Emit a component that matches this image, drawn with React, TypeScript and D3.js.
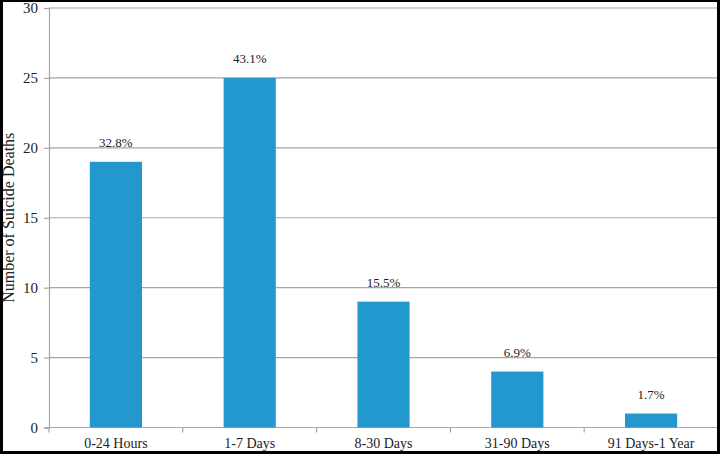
import * as d3 from "d3";
import { useEffect, useRef } from "react";

const categories = ["0-24 Hours", "1-7 Days", "8-30 Days", "31-90 Days", "91 Days-1 Year"];
const deaths = [19, 25, 9, 4, 1];
const percentLabels = ["32.8%", "43.1%", "15.5%", "6.9%", "1.7%"];
const yTicks = [0, 5, 10, 15, 20, 25, 30];

const W = 720;
const H = 454;

export default function App() {
  const ref = useRef<SVGSVGElement | null>(null);

  useEffect(() => {
    if (!ref.current) return;
    const svg = d3.select(ref.current);
    svg.selectAll("*").remove();

    const margin = { top: 8, right: 2, bottom: 26.5, left: 49 };
    const width = W - margin.left - margin.right;
    const height = H - margin.top - margin.bottom;
    const font = "'Liberation Serif', 'Times New Roman', serif";

    svg.append("rect").attr("width", W).attr("height", H).attr("fill", "#fff");

    const g = svg.append("g").attr("transform", `translate(${margin.left},${margin.top})`);

    const x = d3.scaleBand<string>().domain(categories).range([0, width]).padding(0);
    const y = d3.scaleLinear().domain([0, 30]).range([height, 0]);

    // Gridlines
    g.selectAll("line.grid")
      .data(yTicks.filter((t) => t > 0))
      .enter()
      .append("line")
      .attr("class", "grid")
      .attr("x1", 0)
      .attr("x2", width)
      .attr("y1", (d) => y(d))
      .attr("y2", (d) => y(d))
      .attr("stroke", "#a6a6a6")
      .attr("stroke-width", 1.2);

    // Y Axis
    const yAxis = g
      .append("g")
      .call(d3.axisLeft(y).tickValues(yTicks).tickSize(5).tickPadding(6));
    yAxis.select(".domain").attr("stroke", "#a6a6a6").attr("stroke-width", 1.2);
    yAxis.selectAll(".tick line").attr("stroke", "#a6a6a6").attr("stroke-width", 1.2);
    yAxis
      .selectAll("text")
      .style("font-family", font)
      .style("font-size", "15px")
      .attr("fill", "#222");

    // X Axis
    const xAxisG = g.append("g").attr("transform", `translate(0,${height})`);
    xAxisG
      .append("line")
      .attr("x1", -5)
      .attr("x2", width)
      .attr("stroke", "#a6a6a6")
      .attr("stroke-width", 1.2);
    xAxisG
      .selectAll("line.xtick")
      .data(categories)
      .enter()
      .append("line")
      .attr("class", "xtick")
      .attr("x1", (d) => x(d)!)
      .attr("x2", (d) => x(d)!)
      .attr("y1", 0)
      .attr("y2", 5)
      .attr("stroke", "#a6a6a6")
      .attr("stroke-width", 1.2);
    xAxisG
      .selectAll("text")
      .data(categories)
      .enter()
      .append("text")
      .text((d) => d)
      .attr("x", (d) => x(d)! + x.bandwidth() / 2)
      .attr("y", 20)
      .attr("text-anchor", "middle")
      .style("font-family", font)
      .style("font-size", "14px")
      .attr("fill", "#222");

    // Bars
    const barW = x.bandwidth() * 0.39;
    g.selectAll("rect.bar")
      .data(deaths)
      .enter()
      .append("rect")
      .attr("class", "bar")
      .attr("x", (_, i) => x(categories[i])! + (x.bandwidth() - barW) / 2)
      .attr("y", (d) => y(d))
      .attr("width", barW)
      .attr("height", (d) => height - y(d))
      .attr("fill", "#2398cf");

    // Labels on bars
    g.selectAll("text.bar-label")
      .data(deaths)
      .enter()
      .append("text")
      .attr("class", "bar-label")
      .text((_, i) => percentLabels[i])
      .attr("x", (_, i) => x(categories[i])! + x.bandwidth() / 2)
      .attr("y", (d) => y(d) - 15)
      .attr("text-anchor", "middle")
      .style("font-family", font)
      .style("font-size", "13px")
      .attr("fill", "#222");

    // Y title
    svg
      .append("text")
      .text("Number of Suicide Deaths")
      .attr("transform", `translate(14,${margin.top + height / 2}) rotate(-90)`)
      .attr("text-anchor", "middle")
      .style("font-family", font)
      .style("font-size", "16px")
      .attr("fill", "#222");

    // Frame
    svg
      .append("rect")
      .attr("x", 1.5)
      .attr("y", 0.5)
      .attr("width", W - 3)
      .attr("height", H - 2)
      .attr("fill", "none")
      .attr("stroke", "#000")
      .attr("stroke-width", 3);
  }, []);

  return (
    <svg
      ref={ref}
      width={W}
      height={H}
      style={{ position: "absolute", left: 0, top: 0, display: "block" }}
    ></svg>
  );
}
